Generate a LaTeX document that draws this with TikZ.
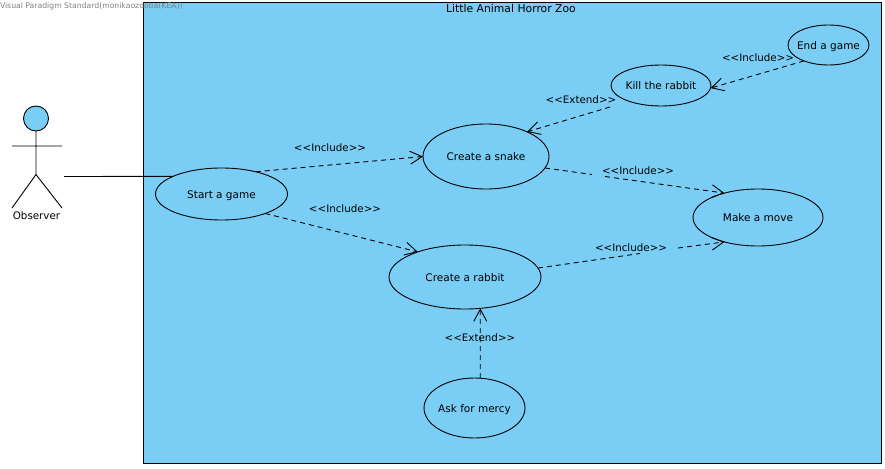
\documentclass[tikz,border=0pt]{standalone}
\usepackage{fontspec}
\setmainfont{DejaVu Sans}
\usetikzlibrary{shapes.geometric,arrows.meta}
\definecolor{zoo}{HTML}{7ACEF5}
\tikzset{
  every node/.style={outer sep=0pt},
  usecase/.style={ellipse,draw=black,fill=zoo,line width=0.9pt,inner sep=-12pt,text height=8.5pt,text depth=0pt,font=\fontsize{10.5}{12}\selectfont},
  lbl/.style={inner sep=0pt,text height=8.5pt,text depth=0pt,font=\fontsize{10.3}{12}\selectfont},
  dep/.style={dashed,dash pattern=on 5pt off 4pt,line width=0.9pt},
  depa/.style={dep,-{Straight Barb[length=12pt,width=13pt,line width=0.9pt]}},
  solidline/.style={line width=0.9pt}
}
\begin{document}
\begin{tikzpicture}[x=1pt,y=-1pt]
\useasboundingbox (0,0) rectangle (885,468);
\node[draw=black,fill=zoo,line width=0.9pt,minimum width=737.5pt,minimum height=460.5pt,inner sep=0pt,anchor=north west] (zoo) at (143.5,2.5) {};
\node[lbl,font=\fontsize{10.8}{12}\selectfont] (title) at (511,8.5) {Little Animal Horror Zoo};
% actor
\node[circle,draw=black,fill=zoo,line width=0.9pt,minimum size=25pt,inner sep=0pt] (head) at (36,118.5) {};
\coordinate (hip) at (36,174.5);
\coordinate (armL) at (12,146);
\coordinate (armR) at (62,146);
\coordinate (footL) at (12,208);
\coordinate (footR) at (62,208);
\draw[solidline] (head.south) -- (hip) -- (footL) (hip) -- (footR) (armL) -- (armR);
\node[lbl] (observer) at (36.5,215) {Observer};
\coordinate (actorEnd) at (64,176.5);
% use cases
\node[usecase,minimum width=132pt,minimum height=52pt] (start) at (221.5,194) {Start a game};
\node[usecase,minimum width=126pt,minimum height=65pt] (snake) at (486,156.5) {Create a snake};
\node[usecase,minimum width=152pt,minimum height=64pt] (rabbit) at (465,277) {Create a rabbit};
\node[usecase,minimum width=100pt,minimum height=41pt] (kill) at (661,85.5) {Kill the rabbit};
\node[usecase,minimum width=81pt,minimum height=40pt] (endg) at (828.5,45) {End a game};
\node[usecase,minimum width=130pt,minimum height=57pt] (move) at (758,217.5) {Make a move};
\node[usecase,minimum width=101pt,minimum height=60pt] (mercy) at (474.5,408) {Ask for mercy};
% connectors
\draw[solidline] (actorEnd) -- (start.160);
\draw[depa] (start.33) -- (snake.180);
\draw[depa] (start.-24.7) -- (rabbit.152.5);
\coordinate (killGap) at (610,107);
\draw[depa] (killGap) -- (snake.31);
\draw[depa] (endg.213) -- (kill.-3);
\coordinate (sm1) at (592,174.5);
\coordinate (sm2) at (605,176.5);
\draw[dep] (snake.-11.7) -- (sm1);
\draw[depa] (sm2) -- (move.144);
\coordinate (rm1) at (640,253.5);
\coordinate (rm2) at (678,248);
\draw[dep] (rabbit.7.6) -- (rm1);
\draw[depa] (rm2) -- (move.216.9);
\draw[depa] (mercy.79.6) -- (rabbit.-64.5);
% labels
\node[lbl] (l1) at (330,147) {<{}<Include>{}>};
\node[lbl] (l2) at (345,208) {<{}<Include>{}>};
\node[lbl] (l3) at (581,99.5) {<{}<Extend>{}>};
\node[lbl] (l4) at (758,57.5) {<{}<Include>{}>};
\node[lbl] (l5) at (638,170.5) {<{}<Include>{}>};
\node[lbl] (l6) at (631,247) {<{}<Include>{}>};
\node[lbl] (l7) at (480,337) {<{}<Extend>{}>};
\node[inner sep=0pt,anchor=west,text=black!50,font=\fontsize{7.7}{8}\selectfont] (wm) at (0,6) {Visual Paradigm Standard(monikaozdoba(KEA))};
\end{tikzpicture}
\end{document}
